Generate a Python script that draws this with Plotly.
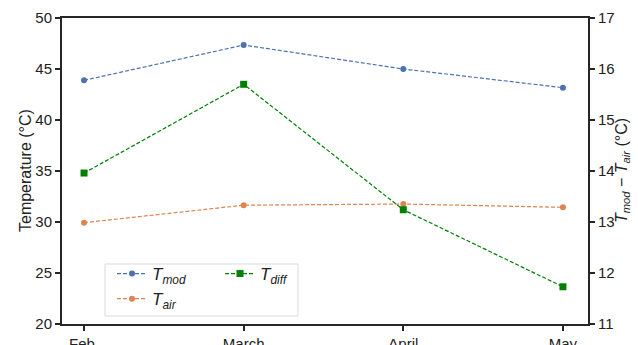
import plotly.graph_objects as go

months = ["Feb.", "March", "April", "May"]
t_mod = [43.89, 47.35, 45.00, 43.17]
t_air = [29.93, 31.65, 31.76, 31.44]
t_diff = [13.96, 15.70, 13.24, 11.73]

x = list(range(len(months)))
FONT = "Liberation Sans, Arial, sans-serif"
L, R, T, B = 62, 50, 18, 21
W, H = 638, 345
pw, ph = W - L - R, H - T - B

fig = go.Figure()
fig.add_trace(go.Scatter(x=x, y=t_mod, mode="lines+markers", name="<i>T<sub>mod</sub></i>",
                         line=dict(color="#4c72b0", width=1.2, dash="4px,2px"),
                         marker=dict(symbol="circle", size=6, color="#4c72b0"), legend="legend"))
fig.add_trace(go.Scatter(x=x, y=t_air, mode="lines+markers", name="<i>T<sub>air</sub></i>",
                         line=dict(color="#dd8452", width=1.2, dash="4px,2px"),
                         marker=dict(symbol="circle", size=6, color="#dd8452"), legend="legend"))
fig.add_trace(go.Scatter(x=x, y=t_diff, mode="lines+markers", name="<i>T<sub>diff</sub></i>",
                         line=dict(color="green", width=1.2, dash="4px,2px"),
                         marker=dict(symbol="square", size=7, color="green"),
                         yaxis="y2", legend="legend2"))

ax_common = dict(showline=True, linecolor="#262626", linewidth=2, ticks="outside",
                 ticklen=5, tickwidth=1.5, tickcolor="#262626", showgrid=False, zeroline=False,
                 automargin=False, tickfont=dict(family=FONT, size=15, color="#222"))

bx0 = (105 - L) / pw
by1 = (H - B - 264) / ph
ly = (H - B - 256) / ph

fig.update_layout(
    width=W, height=H, margin=dict(l=L, r=R, t=T, b=B, autoexpand=False),
    plot_bgcolor="white", paper_bgcolor="white",
    font=dict(family=FONT, size=15, color="#222"),
    xaxis=dict(**ax_common, range=[-0.138, 3.157], tickvals=x, ticktext=months, mirror=True),
    yaxis=dict(**ax_common, range=[20, 50], dtick=5),
    yaxis2=dict(**ax_common, range=[11, 17], dtick=1, overlaying="y", side="right"),
    legend=dict(x=(112 - L) / pw, y=ly, xanchor="left", yanchor="top", bgcolor="rgba(0,0,0,0)",
                font=dict(family=FONT, size=17), itemwidth=30, tracegroupgap=0),
    legend2=dict(x=(220 - L) / pw, y=ly, xanchor="left", yanchor="top", bgcolor="rgba(0,0,0,0)",
                 font=dict(family=FONT, size=17), itemwidth=30),
    showlegend=True,
)

fig.add_annotation(text="Temperature (°C)", xref="paper", yref="paper",
                   x=(25 - L) / pw, y=0.5, textangle=-90, showarrow=False,
                   xanchor="center", yanchor="middle", font=dict(family=FONT, size=16))
fig.add_annotation(text="<i>T<sub>mod</sub></i> − <i>T<sub>air</sub></i> (°C)", xref="paper", yref="paper",
                   x=(622 - L) / pw, y=0.5, textangle=-90, showarrow=False,
                   xanchor="center", yanchor="middle", font=dict(family=FONT, size=16))

fig.add_shape(type="rect", xref="paper", yref="paper",
              x0=bx0, x1=(298 - L) / pw, y0=(H - B - 316) / ph, y1=by1,
              line=dict(color="#d9d9d9", width=1), fillcolor="rgba(255,255,255,0.8)", layer="above")

fig.write_html("out.html", config={"displayModeBar": False},
               post_script="document.body.style.margin='0';document.body.style.overflow='hidden';")
